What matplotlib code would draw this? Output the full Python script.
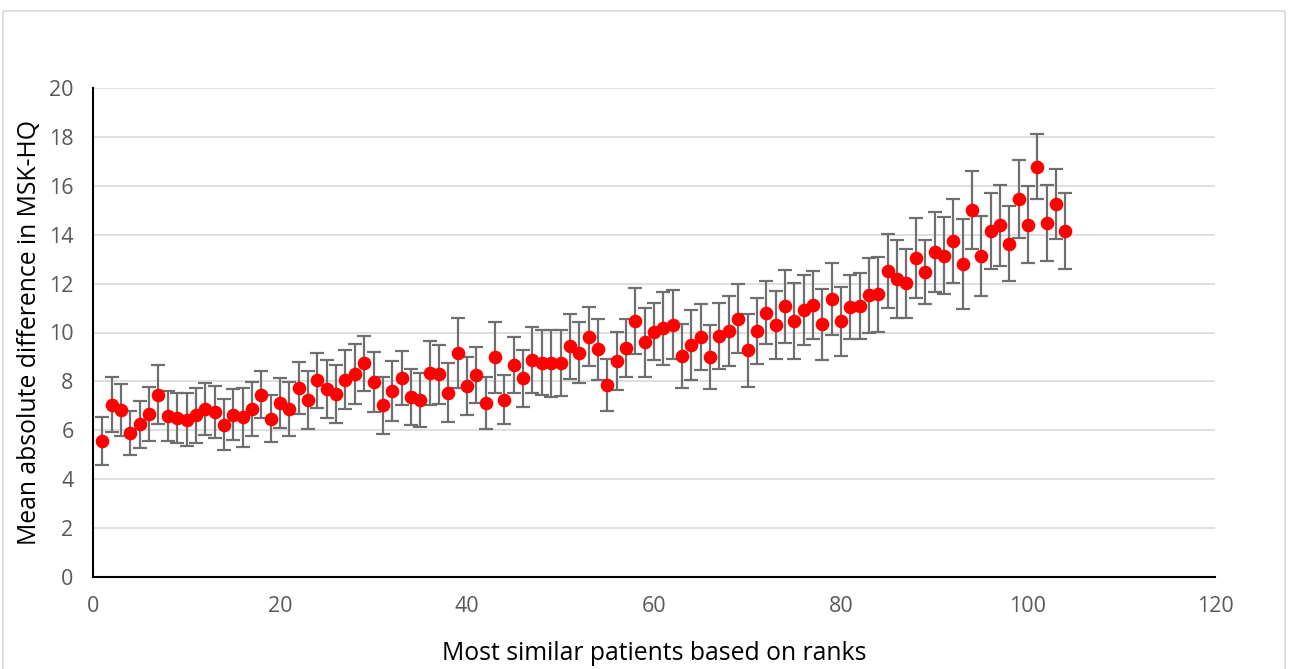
import numpy as np
import matplotlib.pyplot as plt
from matplotlib.patches import Rectangle

ranks = list(range(1, 105))

mean_diff = [
    5.58, 7.05, 6.82, 5.88, 6.24, 6.67, 7.46, 6.57, 6.50, 6.43,
    6.61, 6.88, 6.75, 6.23, 6.64, 6.53, 6.87, 7.46, 6.47, 7.12,
    6.86, 7.72, 7.25, 8.04, 7.69, 7.48, 8.07, 8.30, 8.74, 7.98,
    7.02, 7.61, 8.13, 7.36, 7.24, 8.34, 8.29, 7.53, 9.17, 7.80,
    8.25, 7.12, 8.98, 7.25, 8.66, 8.13, 8.88, 8.77, 8.74, 8.75,
    9.43, 9.18, 9.83, 9.31, 7.84, 8.83, 9.37, 10.47, 9.60, 10.03,
    10.17, 10.31, 9.05, 9.49, 9.83, 8.98, 9.84, 10.06, 10.57, 9.28,
    10.07, 10.81, 10.32, 11.07, 10.46, 10.92, 11.12, 10.33, 11.38, 10.46,
    11.06, 11.07, 11.52, 11.57, 12.53, 12.20, 12.01, 13.06, 12.49, 13.29,
    13.14, 13.73, 12.80, 15.01, 13.13, 14.14, 14.38, 13.63, 15.47, 14.41,
    16.78, 14.47, 15.26, 14.15,
]

err = [
    0.98, 1.12, 1.06, 0.90, 0.97, 1.10, 1.21, 1.02, 1.01, 1.08,
    1.13, 1.06, 1.08, 1.04, 1.04, 1.21, 1.10, 0.97, 0.96, 1.02,
    1.10, 1.06, 1.19, 1.14, 1.17, 1.19, 1.21, 1.21, 1.12, 1.23,
    1.18, 1.21, 1.10, 1.15, 1.10, 1.31, 1.20, 1.21, 1.42, 1.19,
    1.14, 1.08, 1.45, 1.01, 1.15, 1.16, 1.34, 1.33, 1.36, 1.34,
    1.33, 1.25, 1.21, 1.24, 1.07, 1.19, 1.19, 1.36, 1.42, 1.17,
    1.50, 1.41, 1.30, 1.43, 1.35, 1.31, 1.35, 1.44, 1.40, 1.49,
    1.34, 1.29, 1.39, 1.50, 1.56, 1.44, 1.40, 1.45, 1.47, 1.41,
    1.31, 1.35, 1.52, 1.53, 1.51, 1.60, 1.42, 1.63, 1.31, 1.64,
    1.57, 1.72, 1.83, 1.60, 1.64, 1.55, 1.64, 1.53, 1.60, 1.58,
    1.32, 1.55, 1.43, 1.56,
]

plt.rcParams['font.family'] = ['Open Sans', 'DejaVu Sans']

fig = plt.figure(figsize=(12.89, 6.69), dpi=100)

# grey frame of the chart area
fig.patches.append(Rectangle((3 / 1289, -0.05), 1282 / 1289, (669 - 11) / 669 + 0.05,
                             transform=fig.transFigure, fill=False,
                             edgecolor='#d9d9d9', linewidth=1.2))

ax = fig.add_axes([93 / 1289, 92 / 669, 1122 / 1289, 489 / 669])

ax.errorbar(ranks, mean_diff, yerr=err, fmt='none', ecolor='#6f6f6f',
            elinewidth=1.6, capsize=4.7, capthick=1.6, zorder=2)
ax.plot(ranks, mean_diff, 'o', color='#ff0000', markersize=8.8, zorder=3)

ax.set_xlim(0, 120)
ax.set_ylim(0, 20)
ax.set_xticks(np.arange(0, 121, 20))
ax.set_yticks(np.arange(0, 21, 2))
ax.yaxis.grid(True, color='#d9d9d9', linewidth=1.2)
ax.set_axisbelow(True)

for side in ['top', 'right']:
    ax.spines[side].set_visible(False)
for side in ['left', 'bottom']:
    ax.spines[side].set_color('black')
    ax.spines[side].set_linewidth(1.5)

ax.tick_params(length=0, labelsize=15.5, labelcolor='#595959')
ax.tick_params(axis='x', pad=14)
ax.tick_params(axis='y', pad=14)
ax.set_xlabel('Most similar patients based on ranks', fontsize=17.8, labelpad=17)
ax.set_ylabel('Mean absolute difference in MSK-HQ', fontsize=17.8, labelpad=5)

fig.savefig('out.png', dpi=100)
